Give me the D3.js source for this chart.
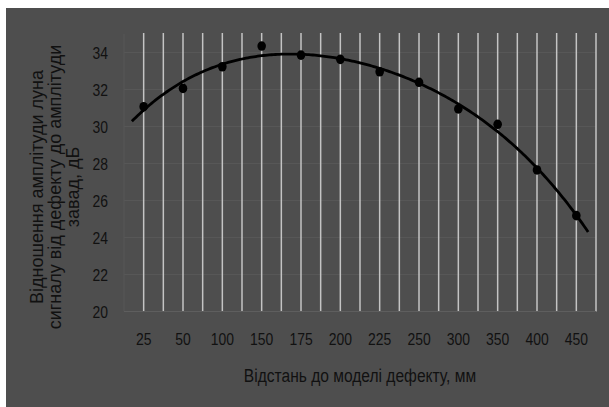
<!DOCTYPE html>
<html>
<head>
<meta charset="utf-8">
<script src="https://cdn.jsdelivr.net/npm/d3@7"></script>
<style>
  body { margin: 0; background: #ffffff; }
  svg { display: block; }
</style>
</head>
<body>
<svg id="drawing_region"></svg>
<script>
// distances to defect model, mm
const categories = ['25', '50', '100', '150', '175', '200', '225', '250', '300', '350', '400', '450'];
// signal-to-noise ratio, dB
const values = [31.07, 32.06, 33.23, 34.35, 33.86, 33.63, 32.96, 32.39, 30.95, 30.12, 27.65, 25.18];
const yTicks = [20, 22, 24, 26, 28, 30, 32, 34];
const yTitleLines = ['Відношення амплітуди луна', 'сигналу від дефекту до амплітуди', 'завад,  дБ'];
const xTitle = 'Відстань до моделі дефекту, мм';

const config = {
    width: 609,
    height: 407,
    plot: {left: 124, right: 596, top: 34, bottom: 311.5},
    trendOrder: 4,
    forecast: 0.3,
    narrow: 0.82   // the tick labels use a condensed face
};

// least squares polynomial, x = 1..n like a spreadsheet trendline
function polyfit(ys, order) {
    const n = order + 1;
    const A = [];
    for (let r = 0; r < n; r++) {
        A.push(new Array(n + 1).fill(0));
    }
    ys.forEach((y, i) => {
        const x = i + 1;
        for (let r = 0; r < n; r++) {
            for (let c = 0; c < n; c++) A[r][c] += Math.pow(x, r + c);
            A[r][n] += y * Math.pow(x, r);
        }
    });
    for (let c = 0; c < n; c++) {
        let p = c;
        for (let r = c + 1; r < n; r++) if (Math.abs(A[r][c]) > Math.abs(A[p][c])) p = r;
        [A[c], A[p]] = [A[p], A[c]];
        for (let r = 0; r < n; r++) {
            if (r === c) continue;
            const f = A[r][c] / A[c][c];
            for (let k = c; k <= n; k++) A[r][k] -= f * A[c][k];
        }
    }
    return A.map((row, i) => row[n] / row[i]);
}

const svg = d3.select('#drawing_region')
    .attr('width', config.width)
    .attr('height', config.height);

svg.append('rect')
    .attr('x', 6).attr('y', 8)
    .attr('width', config.width - 6).attr('height', config.height - 8)
    .attr('fill', '#4e4e4e');

const x = d3.scaleBand()
    .domain(categories)
    .range([config.plot.left, config.plot.right])
    .padding(0);

const y = d3.scaleLinear()
    .domain([20, 35])
    .range([config.plot.bottom, config.plot.top]);

// index scale for the trendline (category centres at 1..n)
const xi = d3.scaleLinear()
    .domain([1, categories.length])
    .range([x(categories[0]) + x.bandwidth() / 2, x(categories[categories.length - 1]) + x.bandwidth() / 2]);

// faint horizontal grid
svg.append('g')
    .selectAll('line')
    .data(yTicks)
    .enter()
    .append('line')
    .attr('x1', config.plot.left).attr('x2', config.plot.right)
    .attr('y1', d => y(d)).attr('y2', d => y(d))
    .attr('stroke', '#575757')
    .attr('stroke-width', 1);

// left edge
svg.append('line')
    .attr('x1', config.plot.left).attr('x2', config.plot.left)
    .attr('y1', config.plot.top).attr('y2', config.plot.bottom)
    .attr('stroke', '#575757');

// vertical grid: band centres and band edges
const vlines = [];
categories.forEach(c => {
    vlines.push(x(c) + x.bandwidth() / 2);
    vlines.push(x(c) + x.bandwidth());
});
svg.append('g')
    .selectAll('line')
    .data(vlines)
    .enter()
    .append('line')
    .attr('x1', d => d).attr('x2', d => d)
    .attr('y1', config.plot.top - 1).attr('y2', config.plot.bottom)
    .attr('stroke', '#c4c4c4')
    .attr('stroke-width', 1.5);

// x axis line
svg.append('line')
    .attr('x1', config.plot.left).attr('x2', config.plot.right)
    .attr('y1', config.plot.bottom).attr('y2', config.plot.bottom)
    .attr('stroke', '#5e5e5e');

// y tick labels
svg.append('g')
    .selectAll('text')
    .data(yTicks)
    .enter()
    .append('text')
    .attr('transform', d => `translate(108,${y(d)}) scale(${config.narrow},1)`)
    .attr('dy', '0.36em')
    .attr('text-anchor', 'end')
    .attr('font-family', '"Liberation Sans", Arial, sans-serif')
    .attr('font-size', '17px')
    .attr('fill', '#111')
    .text(d => d);

// x tick labels
svg.append('g')
    .selectAll('text')
    .data(categories)
    .enter()
    .append('text')
    .attr('transform', d => `translate(${x(d) + x.bandwidth() / 2},345) scale(${config.narrow},1)`)
    .attr('text-anchor', 'middle')
    .attr('font-family', '"Liberation Sans", Arial, sans-serif')
    .attr('font-size', '17px')
    .attr('fill', '#111')
    .text(d => d);

// trendline
const coef = polyfit(values, config.trendOrder);
const trendX = d3.range(1 - config.forecast, categories.length + config.forecast + 0.001, 0.05);
const line = d3.line()
    .x(t => xi(t))
    .y(t => y(coef.reduce((s, a, k) => s + a * Math.pow(t, k), 0)))
    .curve(d3.curveLinear);

svg.append('path')
    .datum(trendX)
    .attr('d', line)
    .attr('fill', 'none')
    .attr('stroke', '#000')
    .attr('stroke-width', 2.8);

// points
svg.append('g')
    .selectAll('ellipse')
    .data(values)
    .enter()
    .append('ellipse')
    .attr('cx', (d, i) => x(categories[i]) + x.bandwidth() / 2)
    .attr('cy', d => y(d))
    .attr('rx', 4.3)
    .attr('ry', 4.8)
    .attr('fill', '#000');

// axis titles
svg.append('text')
    .attr('transform', `translate(360,381.5) scale(${config.narrow},1)`)
    .attr('text-anchor', 'middle')
    .attr('font-family', '"Liberation Sans", Arial, sans-serif')
    .attr('font-size', '19px')
    .attr('fill', '#111')
    .text(xTitle);

const yTitle = svg.append('text')
    .attr('transform', 'translate(0,187) rotate(-90)')
    .attr('text-anchor', 'middle')
    .attr('font-family', '"Liberation Sans", Arial, sans-serif')
    .attr('font-size', '18px')
    .attr('fill', '#111');

yTitle.selectAll('tspan')
    .data(yTitleLines)
    .enter()
    .append('tspan')
    .attr('x', 0)
    .attr('y', (d, i) => 42.5 + i * 18)
    .text(d => d);
</script>
</body>
</html>
